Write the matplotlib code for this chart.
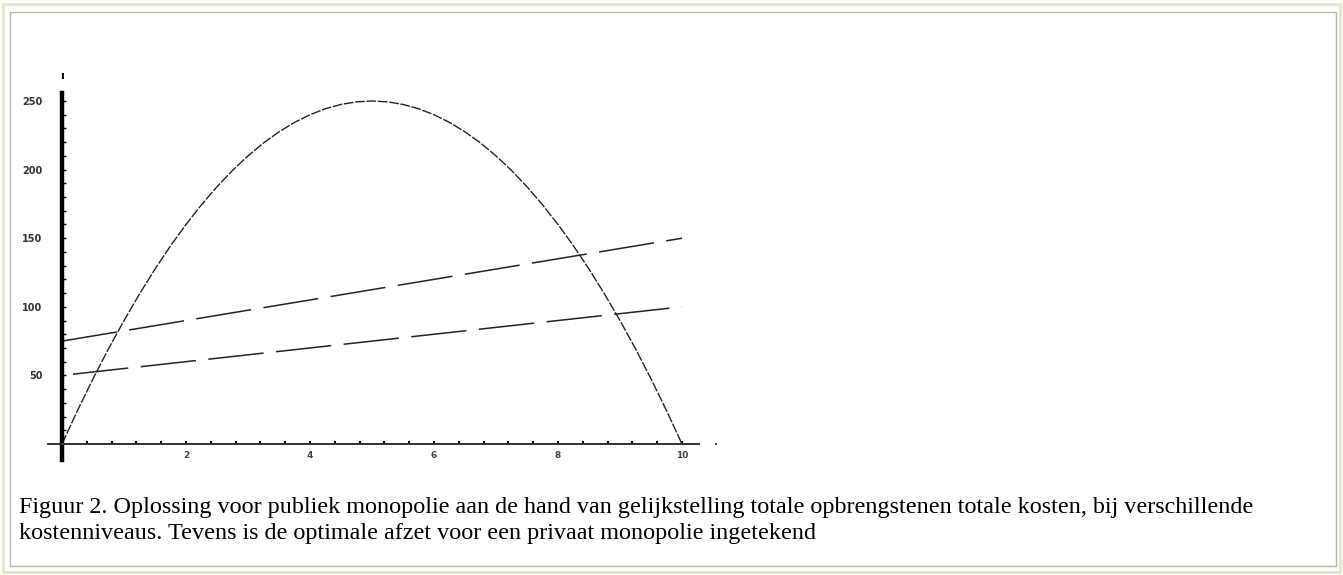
import matplotlib
matplotlib.use("Agg")
import matplotlib.pyplot as plt
import matplotlib.patches as patches

q_tr = [0, 0.25, 0.5, 0.75, 1, 1.25, 1.5, 1.75, 2, 2.25, 2.5, 2.75, 3, 3.25, 3.5, 3.75, 4,
        4.25, 4.5, 4.75, 5, 5.25, 5.5, 5.75, 6, 6.25, 6.5, 6.75, 7, 7.25, 7.5, 7.75, 8,
        8.25, 8.5, 8.75, 9, 9.25, 9.5, 9.75, 10]
tr = [0, 24.4, 47.5, 69.4, 90, 109.4, 127.5, 144.4, 160, 174.4, 187.5, 199.4, 210, 219.4,
      227.5, 234.4, 240, 244.4, 247.5, 249.4, 250, 249.4, 247.5, 244.4, 240, 234.4, 227.5,
      219.4, 210, 199.4, 187.5, 174.4, 160, 144.4, 127.5, 109.4, 90, 69.4, 47.5, 24.4, 0]

# totale kosten bij twee kostenniveaus
q_tc = [0, 10]
tc_high = [75, 150]
tc_low = [50, 100]

y_ticks = [50, 100, 150, 200, 250]
x_ticks = [2, 4, 6, 8, 10]

caption_1 = ("Figuur 2. Oplossing voor publiek monopolie aan de hand van gelijkstelling totale "
             "opbrengstenen totale kosten, bij verschillende")
caption_2 = "kostenniveaus. Tevens is de optimale afzet voor een privaat monopolie ingetekend"

plt.rcParams['lines.scale_dashes'] = False

W, H = 1343, 575
fig = plt.figure(figsize=(W / 100, H / 100), dpi=100)

# kader rond de figuur
fig.patches.append(patches.Rectangle((3 / W, 3 / H), 1337 / W, 568 / H, transform=fig.transFigure,
                                     fill=False, edgecolor="#e6e2cc", linewidth=2))
fig.patches.append(patches.Rectangle((10 / W, 9 / H), 1326 / W, 554 / H, transform=fig.transFigure,
                                     fill=False, edgecolor="#b8b6a8", linewidth=1))

ax = fig.add_axes([40 / W, 1 - 470 / H, 680 / W, 415 / H])
ax.set_xlim(-22 / 62, 10 + 38 / 62)
ax.set_ylim(-26 / 1.372, 389 / 1.372)
ax.patch.set_alpha(0)

ax.plot(q_tr, tr, color="#222222", linewidth=1.0, linestyle=(0, (7, 1.2)))
ax.plot(q_tc, tc_high, color="#222222", linewidth=1.1, linestyle=(0, (40, 9)))
ax.plot(q_tc, tc_low, color="#222222", linewidth=1.1, linestyle=(-8, (40, 9)))

for s in ["top", "right"]:
    ax.spines[s].set_visible(False)
ax.spines["left"].set_position(("data", 0))
ax.spines["bottom"].set_position(("data", 0))
ax.spines["left"].set_bounds(-12, 256)
ax.spines["bottom"].set_bounds(-0.23, 10.27)
ax.spines["left"].set_linewidth(3.2)
ax.spines["bottom"].set_linewidth(1.4)
ax.spines["bottom"].set_color("#333333")

ax.set_yticks(y_ticks)
ax.set_yticklabels([str(v) for v in y_ticks], fontsize=7, fontweight="bold", color="#333333")
ax.set_yticks(range(10, 256, 10), minor=True)
ax.tick_params(axis="y", which="both", direction="in", length=3, width=1, pad=14)

ax.set_xticks(x_ticks)
ax.set_xticklabels([str(v) for v in x_ticks], fontsize=6.5, fontweight="bold", color="#444444")
ax.set_xticks([0.4 * k for k in range(1, 26)], minor=True)
ax.tick_params(axis="x", which="both", direction="in", length=2, width=1.5, pad=5)

ax.text(0, 268, "ı", fontsize=8, fontweight="bold", ha="center", va="center")
ax.text(10.55, -1, "•", fontsize=5, ha="center", va="center")

fig.text(19 / W, 1 - 513 / H, caption_1, fontsize=17.4, family="Liberation Serif",
         va="baseline", ha="left")
fig.text(19 / W, 1 - 539 / H, caption_2, fontsize=17.4, family="Liberation Serif",
         va="baseline", ha="left")

fig.savefig("out.png", dpi=100)
